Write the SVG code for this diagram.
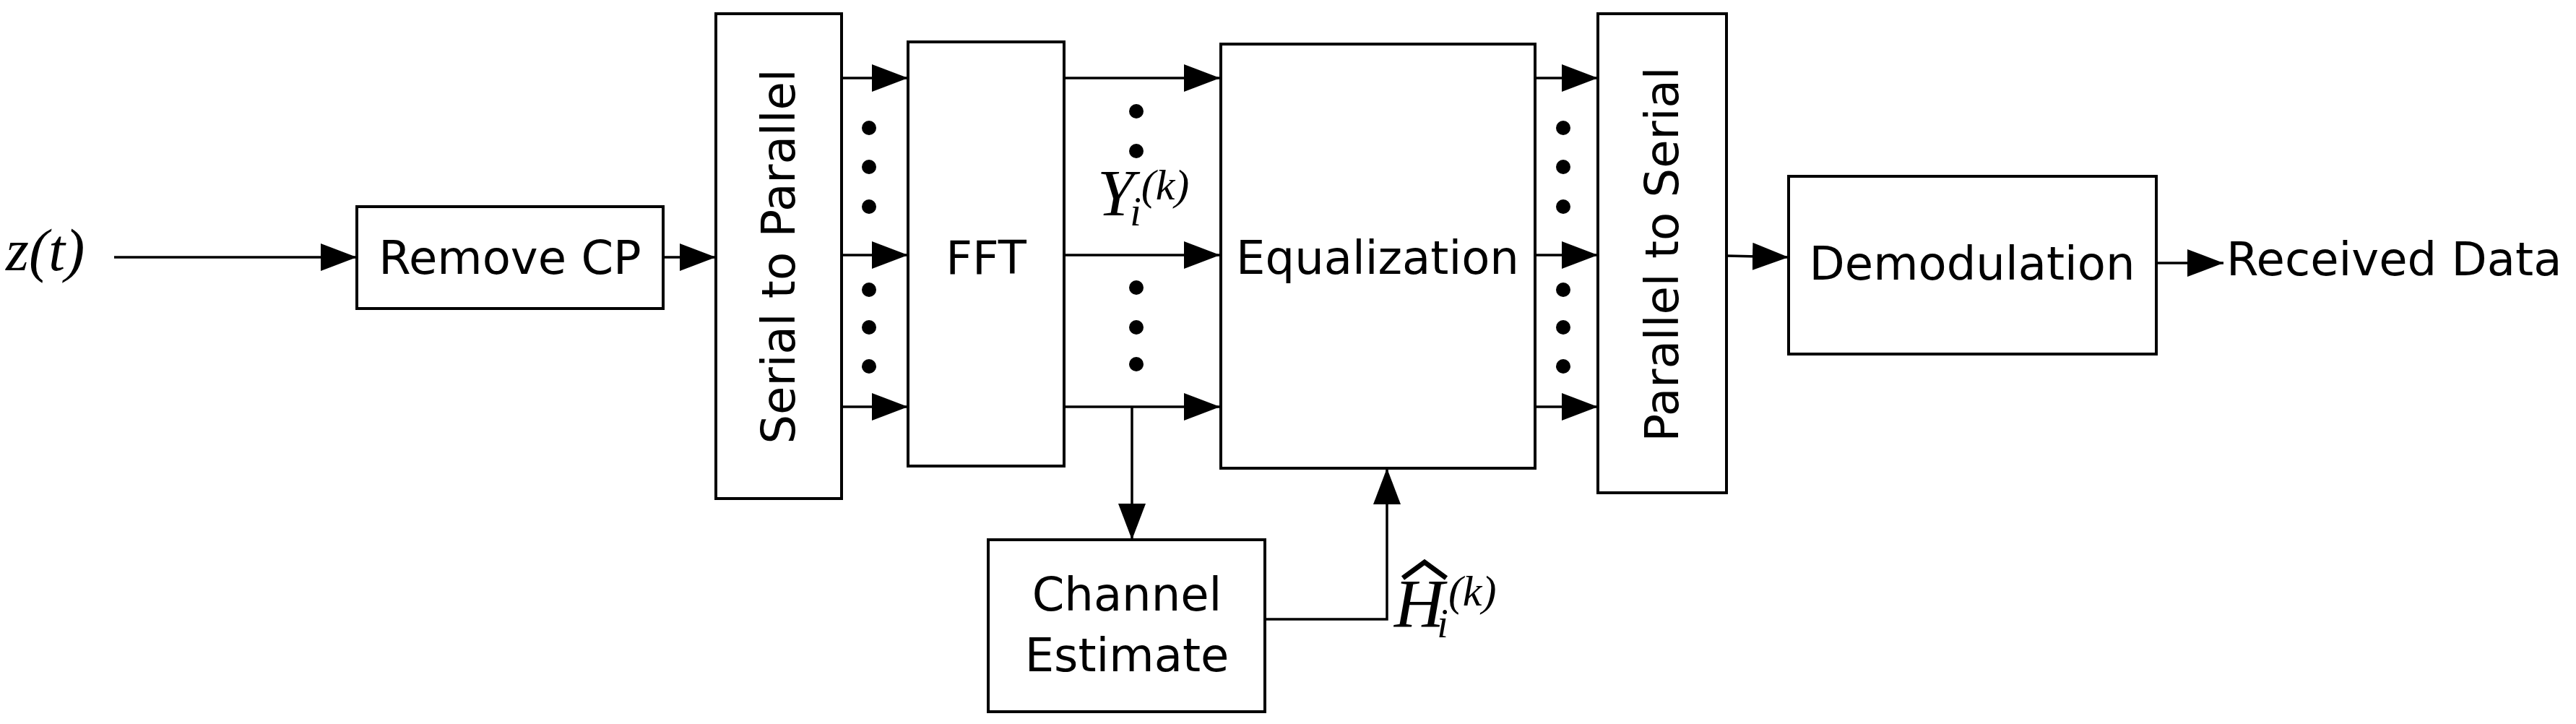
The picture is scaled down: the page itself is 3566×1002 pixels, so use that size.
<svg xmlns="http://www.w3.org/2000/svg" width="3566" height="1002" viewBox="0 0 3566 1002">
<defs>
<marker id="ar" markerWidth="50" markerHeight="38" refX="50" refY="19" orient="auto" markerUnits="userSpaceOnUse"><path d="M0,0 L50,19 L0,38 z" fill="#000"/></marker>
<style>
.b{fill:#fff;stroke:#000;stroke-width:4}
.t{font-family:"DejaVu Sans",sans-serif;font-size:64px;fill:#000}
.m{font-family:"Liberation Serif",serif;font-style:italic;fill:#000}
.c{fill:none;stroke:#000;stroke-width:3.5;marker-end:url(#ar)}
</style>
</defs>
<rect width="3566" height="1002" fill="#fff"/>
<g id="conn">
<path class="c" d="M158,356 H494"/>
<path class="c" d="M918,356 H991"/>
<path class="c" d="M1165,108 H1257"/>
<path class="c" d="M1165,353 H1257"/>
<path class="c" d="M1165,563 H1257"/>
<path class="c" d="M1473,108 H1689"/>
<path class="c" d="M1473,353 H1689"/>
<path class="c" d="M1473,563 H1689"/>
<path class="c" d="M1567,563 V747"/>
<path class="c" d="M1751,857 H1920 V648"/>
<path class="c" d="M2125,108 H2212"/>
<path class="c" d="M2125,353 H2212"/>
<path class="c" d="M2125,563 H2212"/>
<path class="c" d="M2390,354 L2476,356"/>
<path class="c" d="M2985,364 H3078"/>
<g fill="#000">
<circle cx="1203" cy="177" r="10"/><circle cx="1203" cy="231" r="10"/><circle cx="1203" cy="286" r="10"/>
<circle cx="1203" cy="401" r="10"/><circle cx="1203" cy="453" r="10"/><circle cx="1203" cy="507" r="10"/>
<circle cx="1573" cy="154" r="10"/><circle cx="1573" cy="209" r="10"/>
<circle cx="1573" cy="398" r="10"/><circle cx="1573" cy="453" r="10"/><circle cx="1573" cy="504" r="10"/>
<circle cx="2164" cy="177" r="10"/><circle cx="2164" cy="231" r="10"/><circle cx="2164" cy="286" r="10"/>
<circle cx="2164" cy="401" r="10"/><circle cx="2164" cy="453" r="10"/><circle cx="2164" cy="507" r="10"/>
</g>
</g>
<g id="zt"><text class="m" x="8" y="374" font-size="82">z(t)</text></g>
<g id="removecp"><rect class="b" x="494" y="286" width="424" height="141"/><text class="t" x="706" y="379" text-anchor="middle">Remove CP</text></g>
<g id="s2p"><rect class="b" x="991" y="19" width="174" height="671"/><text class="t" transform="translate(1100,355) rotate(-90)" text-anchor="middle">Serial to Parallel</text></g>
<g id="fft"><rect class="b" x="1257" y="58" width="216" height="587"/><text class="t" x="1365" y="379" text-anchor="middle">FFT</text></g>
<g id="yik"><text class="m" x="1519" y="298" font-size="92">Y<tspan font-size="56" dy="14" dx="-6">i</tspan><tspan font-size="60" dy="-36">(k)</tspan></text></g>
<g id="eq"><rect class="b" x="1690" y="61" width="435" height="587"/><text class="t" x="1907" y="379" text-anchor="middle">Equalization</text></g>
<g id="ce"><rect class="b" x="1368" y="747" width="383" height="238"/><text class="t" x="1560" y="845" text-anchor="middle">Channel</text><text class="t" x="1560" y="929" text-anchor="middle">Estimate</text></g>
<g id="hik"><text class="m" x="1930" y="868" font-size="96">H<tspan font-size="56" dy="14" dx="-10">i</tspan><tspan font-size="60" dy="-44">(k)</tspan></text><path d="M1942,800 L1972,778 L2002,800" fill="none" stroke="#000" stroke-width="7"/></g>
<g id="p2s"><rect class="b" x="2212" y="19" width="178" height="663"/><text class="t" transform="translate(2323,352) rotate(-90)" text-anchor="middle">Parallel to Serial</text></g>
<g id="demod"><rect class="b" x="2476" y="244" width="509" height="246"/><text class="t" x="2730" y="387" text-anchor="middle">Demodulation</text></g>
<g id="rd"><text class="t" x="3082" y="381">Received Data</text></g>
</svg>
